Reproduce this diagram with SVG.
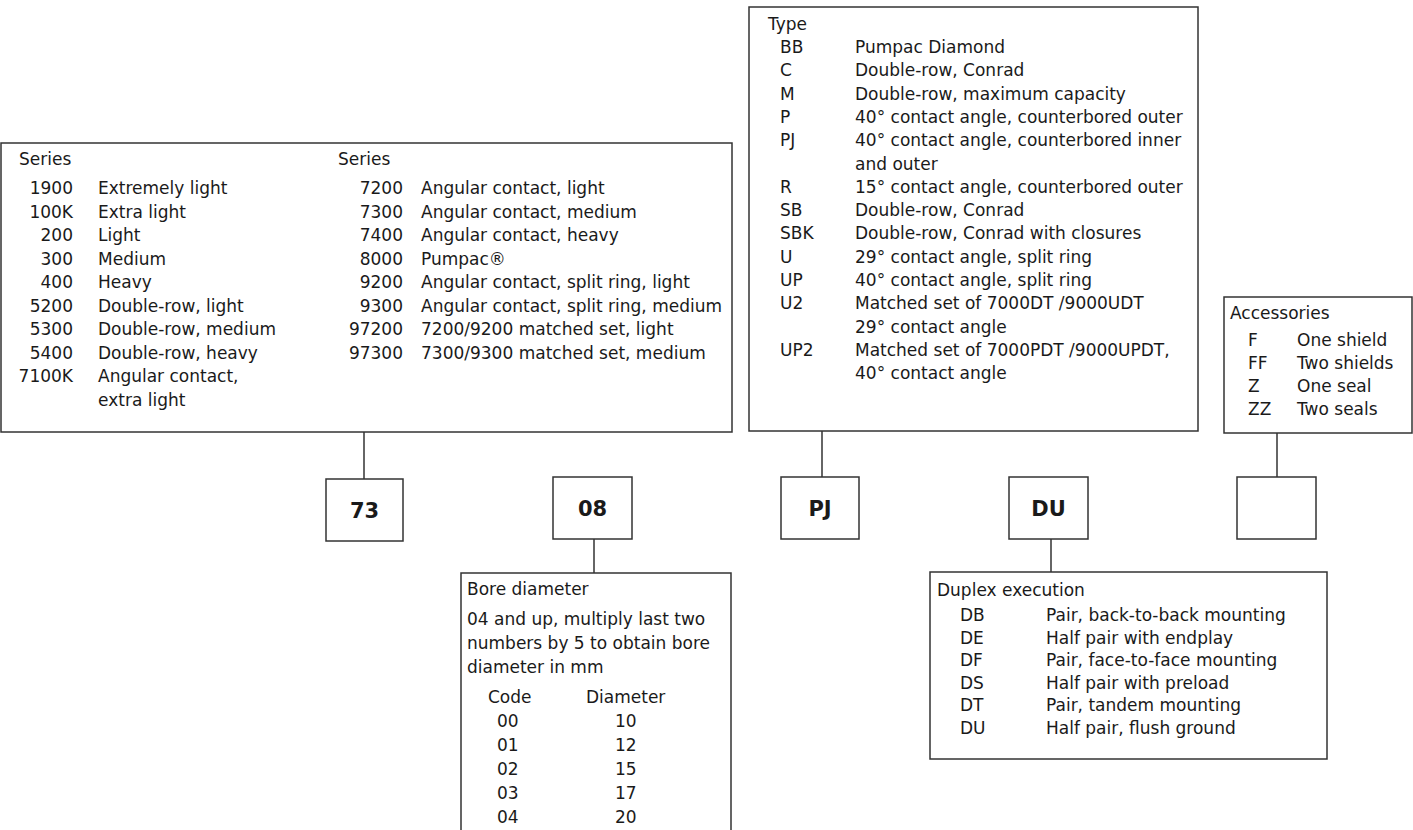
<svg xmlns="http://www.w3.org/2000/svg" width="1413" height="830" viewBox="0 0 1413 830">
<style>
text{font-family:"DejaVu Sans","Liberation Sans",sans-serif;font-size:17px;fill:#1a1a1a}
.r{text-anchor:end}
.box{fill:#fff;stroke:#333;stroke-width:1.5}
.lbl{font-size:21px;font-weight:bold;text-anchor:middle}
line{stroke:#333;stroke-width:1.5}
</style>
<rect width="1413" height="830" fill="#fff"/>
<g id="connectors">
<line x1="364" y1="432" x2="364" y2="479"/>
<line x1="822" y1="431" x2="822" y2="477"/>
<line x1="1277" y1="433" x2="1277" y2="477"/>
<line x1="594" y1="539" x2="594" y2="573"/>
<line x1="1051" y1="539" x2="1051" y2="572"/>
</g>
<g id="series">
<rect class="box" x="1" y="143" width="731" height="289"/>
<text x="19" y="165">Series</text>
<text class="r" x="73" y="194">1900</text><text x="98" y="194">Extremely light</text>
<text class="r" x="73" y="217.5">100K</text><text x="98" y="217.5">Extra light</text>
<text class="r" x="73" y="241">200</text><text x="98" y="241">Light</text>
<text class="r" x="73" y="264.5">300</text><text x="98" y="264.5">Medium</text>
<text class="r" x="73" y="288">400</text><text x="98" y="288">Heavy</text>
<text class="r" x="73" y="311.5">5200</text><text x="98" y="311.5">Double-row, light</text>
<text class="r" x="73" y="335">5300</text><text x="98" y="335">Double-row, medium</text>
<text class="r" x="73" y="358.5">5400</text><text x="98" y="358.5">Double-row, heavy</text>
<text class="r" x="73" y="382">7100K</text><text x="98" y="382">Angular contact,</text>
<text x="98" y="405.5">extra light</text>
<text x="338" y="165">Series</text>
<text class="r" x="403" y="194">7200</text><text x="421" y="194">Angular contact, light</text>
<text class="r" x="403" y="217.5">7300</text><text x="421" y="217.5">Angular contact, medium</text>
<text class="r" x="403" y="241">7400</text><text x="421" y="241">Angular contact, heavy</text>
<text class="r" x="403" y="264.5">8000</text><text x="421" y="264.5">Pumpac®</text>
<text class="r" x="403" y="288">9200</text><text x="421" y="288">Angular contact, split ring, light</text>
<text class="r" x="403" y="311.5">9300</text><text x="421" y="311.5">Angular contact, split ring, medium</text>
<text class="r" x="403" y="335">97200</text><text x="421" y="335">7200/9200 matched set, light</text>
<text class="r" x="403" y="358.5">97300</text><text x="421" y="358.5">7300/9300 matched set, medium</text>
</g>
<g id="type">
<rect class="box" x="749" y="7" width="449" height="424"/>
<text x="768" y="30">Type</text>
<text x="780" y="53">BB</text><text x="855" y="53">Pumpac Diamond</text>
<text x="780" y="76.3">C</text><text x="855" y="76.3">Double-row, Conrad</text>
<text x="780" y="99.6">M</text><text x="855" y="99.6">Double-row, maximum capacity</text>
<text x="780" y="122.9">P</text><text x="855" y="122.9">40° contact angle, counterbored outer</text>
<text x="780" y="146.2">PJ</text><text x="855" y="146.2">40° contact angle, counterbored inner</text>
<text x="855" y="169.5">and outer</text>
<text x="780" y="192.8">R</text><text x="855" y="192.8">15° contact angle, counterbored outer</text>
<text x="780" y="216.1">SB</text><text x="855" y="216.1">Double-row, Conrad</text>
<text x="780" y="239.4">SBK</text><text x="855" y="239.4">Double-row, Conrad with closures</text>
<text x="780" y="262.7">U</text><text x="855" y="262.7">29° contact angle, split ring</text>
<text x="780" y="286">UP</text><text x="855" y="286">40° contact angle, split ring</text>
<text x="780" y="309.3">U2</text><text x="855" y="309.3">Matched set of 7000DT /9000UDT</text>
<text x="855" y="332.6">29° contact angle</text>
<text x="780" y="355.9">UP2</text><text x="855" y="355.9">Matched set of 7000PDT /9000UPDT,</text>
<text x="855" y="379.2">40° contact angle</text>
</g>
<g id="accessories">
<rect class="box" x="1224" y="297" width="188" height="136"/>
<text x="1230" y="319">Accessories</text>
<text x="1248" y="346">F</text><text x="1297" y="346">One shield</text>
<text x="1248" y="369">FF</text><text x="1297" y="369">Two shields</text>
<text x="1248" y="392">Z</text><text x="1297" y="392">One seal</text>
<text x="1248" y="415">ZZ</text><text x="1297" y="415">Two seals</text>
</g>
<g id="code73">
<rect class="box" x="326" y="479" width="77" height="62"/>
<text class="lbl" x="364.5" y="518">73</text>
</g>
<g id="code08">
<rect class="box" x="553" y="477" width="79" height="62"/>
<text class="lbl" x="592.5" y="516">08</text>
</g>
<g id="codePJ">
<rect class="box" x="781" y="477" width="78" height="62"/>
<text class="lbl" x="820" y="516">PJ</text>
</g>
<g id="codeDU">
<rect class="box" x="1009" y="477" width="79" height="62"/>
<text class="lbl" x="1048.5" y="516">DU</text>
</g>
<g id="codeAcc">
<rect class="box" x="1237" y="477" width="79" height="62"/>
</g>
<g id="bore">
<path class="box" d="M461,835 V573 H731 V835"/>
<text x="467" y="595">Bore diameter</text>
<text x="467" y="625">04 and up, multiply last two</text>
<text x="467" y="649">numbers by 5 to obtain bore</text>
<text x="467" y="673">diameter in mm</text>
<text x="488" y="703">Code</text><text x="586" y="703">Diameter</text>
<text x="497" y="727">00</text><text x="615" y="727">10</text>
<text x="497" y="751">01</text><text x="615" y="751">12</text>
<text x="497" y="775">02</text><text x="615" y="775">15</text>
<text x="497" y="799">03</text><text x="615" y="799">17</text>
<text x="497" y="823">04</text><text x="615" y="823">20</text>
</g>
<g id="duplex">
<rect class="box" x="930" y="572" width="397" height="187"/>
<text x="937" y="596">Duplex execution</text>
<text x="960" y="621">DB</text><text x="1046" y="621">Pair, back-to-back mounting</text>
<text x="960" y="643.6">DE</text><text x="1046" y="643.6">Half pair with endplay</text>
<text x="960" y="666.2">DF</text><text x="1046" y="666.2">Pair, face-to-face mounting</text>
<text x="960" y="688.8">DS</text><text x="1046" y="688.8">Half pair with preload</text>
<text x="960" y="711.4">DT</text><text x="1046" y="711.4">Pair, tandem mounting</text>
<text x="960" y="734">DU</text><text x="1046" y="734">Half pair, flush ground</text>
</g>
</svg>
